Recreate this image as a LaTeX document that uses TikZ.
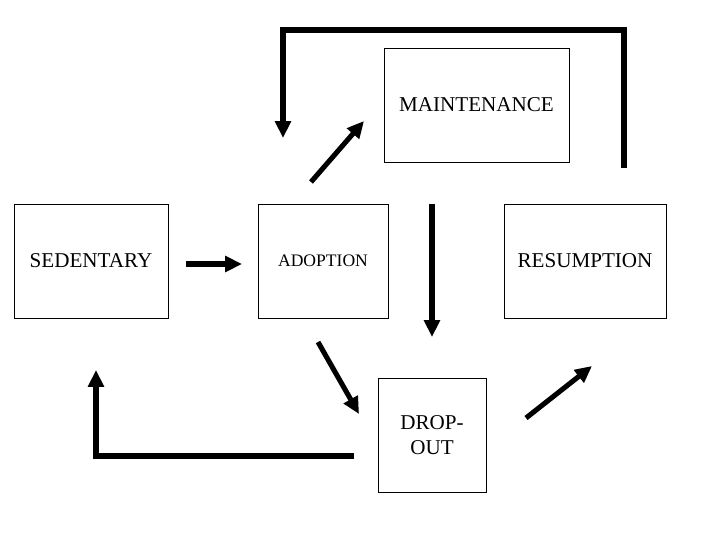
\documentclass[tikz,border=0pt]{standalone}
\usepackage{fontspec}
\setmainfont{Liberation Serif}
\usetikzlibrary{arrows.meta}
\begin{document}
\begin{tikzpicture}[x=0.025cm,y=-0.025cm,>={Triangle[length=12pt,width=11pt]},
  stage/.style={draw,line width=0.7pt,inner sep=0pt,font=\fontsize{15}{18}\selectfont,align=center},
  flow/.style={->,line width=3.6pt}]
  \useasboundingbox (0,0) rectangle (720,540);
  \node[stage,minimum width=185*0.025cm,minimum height=114*0.025cm] (maint) at (476.5,105) {MAINTENANCE};
  \node[stage,minimum width=154*0.025cm,minimum height=114*0.025cm] (sed) at (91,261) {SEDENTARY};
  \node[stage,minimum width=130*0.025cm,minimum height=114*0.025cm,font=\fontsize{12.5}{15}\selectfont] (adopt) at (323,261) {ADOPTION};
  \node[stage,minimum width=162*0.025cm,minimum height=114*0.025cm] (resum) at (585,261) {RESUMPTION};
  \node[stage,minimum width=108*0.025cm,minimum height=114*0.025cm,text depth=0pt] (drop) at (432,435) {DROP-\\OUT};
  % free arrow ends
  \coordinate (a1) at (624,168); \coordinate (a2) at (283,138);
  \coordinate (b1) at (311,182); \coordinate (b2) at (364,121);
  \coordinate (c1) at (186,264); \coordinate (c2) at (242,264);
  \coordinate (d1) at (432,204); \coordinate (d2) at (432,337);
  \coordinate (e1) at (318,342); \coordinate (e2) at (359,414);
  \coordinate (f1) at (354,456); \coordinate (f2) at (96,370);
  \coordinate (g1) at (526,418); \coordinate (g2) at (592,366);
  \draw[flow] (a1) -- (a1|-0,30) -- (a2|-0,30) -- (a2);
  \draw[flow] (b1) -- (b2);
  \draw[flow] (c1) -- (c2);
  \draw[flow] (d1) -- (d2);
  \draw[flow] (e1) -- (e2);
  \draw[flow] (f1) -- (f2|-f1) -- (f2);
  \draw[flow] (g1) -- (g2);
\end{tikzpicture}
\end{document}
